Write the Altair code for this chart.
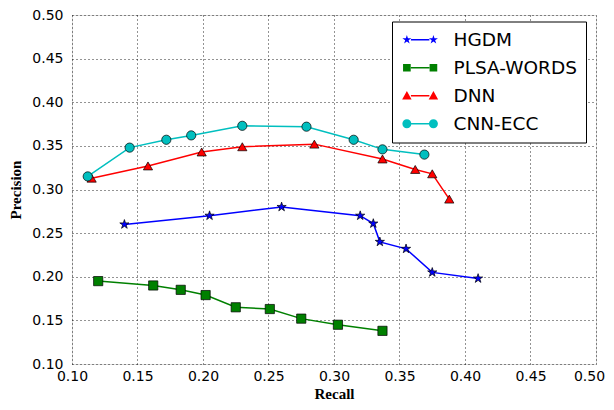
import altair as alt
import pandas as pd

series_names = ["HGDM", "PLSA-WORDS", "DNN", "CNN-ECC"]
series_colors = ["#0000ff", "#008000", "#ff0000", "#00bfbf"]

hgdm_recall = [0.140, 0.205, 0.260, 0.320, 0.330, 0.335, 0.355, 0.375, 0.410]
hgdm_precision = [0.260, 0.270, 0.280, 0.270, 0.261, 0.240, 0.232, 0.205, 0.198]

plsa_recall = [0.120, 0.162, 0.183, 0.202, 0.225, 0.251, 0.275, 0.303, 0.337]
plsa_precision = [0.195, 0.190, 0.185, 0.179, 0.165, 0.163, 0.152, 0.145, 0.138]

dnn_recall = [0.115, 0.158, 0.199, 0.230, 0.285, 0.337, 0.362, 0.375, 0.388]
dnn_precision = [0.313, 0.327, 0.343, 0.349, 0.352, 0.335, 0.323, 0.318, 0.289]

cnn_recall = [0.112, 0.144, 0.172, 0.191, 0.230, 0.279, 0.315, 0.337, 0.369]
cnn_precision = [0.315, 0.348, 0.357, 0.362, 0.373, 0.372, 0.357, 0.346, 0.340]

x_ticks = [0.10, 0.15, 0.20, 0.25, 0.30, 0.35, 0.40, 0.45, 0.50]
y_ticks = [0.10, 0.15, 0.20, 0.25, 0.30, 0.35, 0.40, 0.45, 0.50]


# ---- marker glyphs (unit coordinates) ----
def star_path(cx=0.0, r=1.0):
    pts = [(0, -1), (0.2245, -0.309), (0.951, -0.309), (0.363, 0.118),
           (0.588, 0.809), (0, 0.382), (-0.588, 0.809), (-0.363, 0.118),
           (-0.951, -0.309), (-0.2245, -0.309)]
    s = "".join(("M" if i == 0 else "L") + f"{cx + x * r:.3f},{y * r:.3f}"
                for i, (x, y) in enumerate(pts))
    return s + "Z"


def square_path(cx=0.0, r=0.85):
    return (f"M{cx - r:.3f},{-r:.3f}L{cx + r:.3f},{-r:.3f}"
            f"L{cx + r:.3f},{r:.3f}L{cx - r:.3f},{r:.3f}Z")


def triangle_path(cx=0.0, r=1.05):
    return (f"M{cx:.3f},{-r:.3f}L{cx + r:.3f},{0.8 * r:.3f}"
            f"L{cx - r:.3f},{0.8 * r:.3f}Z")


def circle_path(cx=0.0, r=1.0):
    return (f"M{cx + r:.3f},0A{r},{r},0,1,1,{cx - r:.3f},0"
            f"A{r},{r},0,1,1,{cx + r:.3f},0Z")


def legend_glyph(fn, start=-0.75, gap=5.9):
    a, b = start, start + gap
    line = (f"M{a + 0.9:.3f},-0.17L{b - 0.9:.3f},-0.17"
            f"L{b - 0.9:.3f},0.17L{a + 0.9:.3f},0.17Z")
    return fn(a) + line + fn(b)


series_shapes = [star_path(r=1.05), "square", "triangle-up", "circle"]
legend_shapes = [legend_glyph(lambda c: star_path(c, 1.05)),
                 legend_glyph(square_path),
                 legend_glyph(triangle_path),
                 legend_glyph(circle_path)]

rows = []
for name, rs, ps in zip(series_names,
                        [hgdm_recall, plsa_recall, dnn_recall, cnn_recall],
                        [hgdm_precision, plsa_precision, dnn_precision, cnn_precision]):
    for i, (r, p) in enumerate(zip(rs, ps)):
        rows.append({"series": name, "recall": r, "precision": p, "order": i})
df = pd.DataFrame(rows)

color_scale = alt.Scale(domain=series_names, range=series_colors)
shape_scale = alt.Scale(domain=series_names, range=series_shapes)
legend_shape_scale = alt.Scale(domain=series_names, range=legend_shapes)

grid_kw = dict(ticks=False, domain=False, grid=True, gridColor="black",
               gridDash=[1, 3], gridOpacity=0.85, gridWidth=1,
               labelFlush=False, labelFont="DejaVu Sans", labelFontSize=14,
               labelColor="black", format=".2f",
               titleFont="Liberation Serif", titleFontWeight="bold",
               titleFontSize=15, titleColor="black")

x_enc = alt.X("recall:Q", title="Recall",
              scale=alt.Scale(domain=[0.1, 0.5], nice=False, zero=False),
              axis=alt.Axis(values=x_ticks, labelPadding=5, titlePadding=3,
                            labelOffset={"condition": {"test": "datum.value >= 0.499",
                                                       "value": -7},
                                         "value": 0},
                            **grid_kw))
y_enc = alt.Y("precision:Q", title="Precision",
              scale=alt.Scale(domain=[0.1, 0.5], nice=False, zero=False),
              axis=alt.Axis(values=y_ticks, labelPadding=9, titlePadding=8,
                            **grid_kw))

base = alt.Chart(df)

lines = base.mark_line(strokeWidth=1.5).encode(
    x=x_enc, y=y_enc,
    color=alt.Color("series:N", scale=color_scale, legend=None),
    detail="series:N",
    order="order:Q",
)

points = base.mark_point(filled=True, opacity=1, size=85, stroke="black",
                         strokeWidth=0.7).encode(
    x=x_enc, y=y_enc,
    color=alt.Color("series:N", scale=color_scale, legend=None),
    shape=alt.Shape("series:N", scale=shape_scale, legend=None),
)

legend = alt.Legend(orient="none", legendX=320, legendY=6.5,
                    strokeColor="black", fillColor="white",
                    padding=9, labelFont="DejaVu Sans",
                    labelFontSize=18.5, labelColor="black",
                    symbolSize=81, rowPadding=9,
                    symbolStrokeWidth=0, symbolOpacity=1,
                    labelOffset=34, cornerRadius=0, labelLimit=300)

legend_layer = base.transform_filter("false").transform_calculate(
    key="datum.series"
).mark_point(filled=True, opacity=1, strokeWidth=0).encode(
    x=x_enc, y=y_enc,
    color=alt.Color("key:N", scale=color_scale, title=None, legend=legend),
    shape=alt.Shape("key:N", scale=legend_shape_scale, title=None, legend=legend),
)

chart = alt.layer(lines, points, legend_layer).resolve_scale(
    color="independent", shape="independent"
).properties(
    width=524, height=349,
    padding={"left": 0, "top": 0, "right": 0, "bottom": 0},
).configure_view(
    stroke="black", strokeWidth=1.5
).configure(background="white")

chart.save("out.html", embed_options={"renderer": "svg", "actions": False})
